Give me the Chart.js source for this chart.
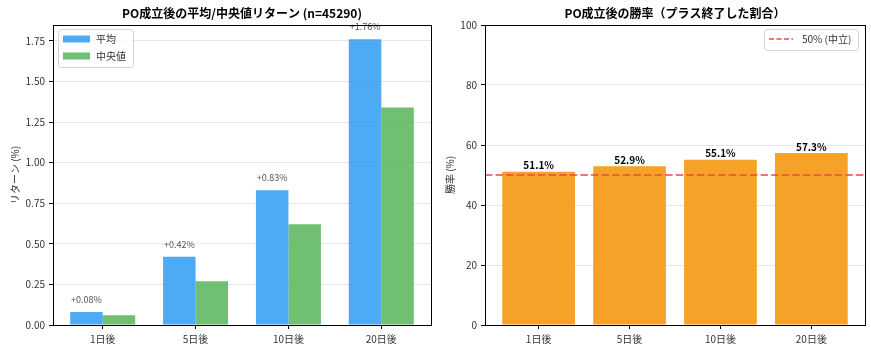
<!DOCTYPE html>
<html>
<head>
<meta charset="utf-8">
<script src="https://cdn.jsdelivr.net/npm/chart.js@4.4.0/dist/chart.umd.min.js"></script>
<style>
  body { margin: 0; background: #fff; }
  #wrap { position: relative; width: 871px; height: 352px; }
  canvas { position: absolute; top: 0; }
</style>
</head>
<body>
<div id="wrap">
  <canvas id="returns" width="435" height="352" style="left:0"></canvas>
  <canvas id="winrate" width="436" height="352" style="left:435px"></canvas>
</div>
<script>
const periods = ["1日後", "5日後", "10日後", "20日後"];
const meanReturn = [0.08, 0.42, 0.83, 1.76];
const medianReturn = [0.06, 0.27, 0.62, 1.34];
const winRate = [51.1, 52.9, 55.1, 57.3];
const neutralLine = 50;
const sampleCount = 45290;

const meanColor = "rgba(33, 150, 243, 0.8)";
const medianColor = "rgba(76, 175, 80, 0.8)";
const winColor = "#F6A229";
const lineColor = "rgba(231, 76, 60, 0.75)";
const fontFamily = '"Noto Sans CJK JP", "Noto Sans", sans-serif';

Chart.defaults.font.family = fontFamily;
Chart.defaults.font.size = 10;
Chart.defaults.color = "#333";

// bars sit on a linear x axis (index positions) so the side margins match the original
const toPoints = (values) => values.map((v, i) => ({ x: i, y: v }));

// black box round the plot area
const frame = {
  id: "frame",
  afterDraw(chart) {
    const { ctx, chartArea: a } = chart;
    ctx.save();
    ctx.strokeStyle = "#000";
    ctx.lineWidth = 1;
    ctx.strokeRect(Math.round(a.left) + 0.5, Math.round(a.top) + 0.5,
      Math.round(a.right - a.left), Math.round(a.bottom - a.top));
    ctx.restore();
  },
};

// value text above the bars of the first dataset
const barLabels = {
  id: "barLabels",
  afterDatasetsDraw(chart, args, opts) {
    const ctx = chart.ctx;
    const meta = chart.getDatasetMeta(0);
    const data = chart.data.datasets[0].data;
    ctx.save();
    ctx.font = opts.font;
    ctx.fillStyle = opts.color;
    ctx.textAlign = "center";
    ctx.textBaseline = "bottom";
    meta.data.forEach((bar, i) => {
      ctx.fillText(opts.prefix + data[i].y.toFixed(opts.decimals) + "%", bar.x, bar.y - opts.gap);
    });
    ctx.restore();
  },
};

// dashed horizontal reference line
const refLine = {
  id: "refLine",
  afterDatasetsDraw(chart, args, opts) {
    const { ctx, chartArea: a, scales } = chart;
    const y = scales.y.getPixelForValue(opts.value);
    ctx.save();
    ctx.strokeStyle = opts.color;
    ctx.lineWidth = 2;
    ctx.setLineDash([7.4, 3.2]);
    ctx.beginPath();
    ctx.moveTo(a.left, y);
    ctx.lineTo(a.right, y);
    ctx.stroke();
    ctx.restore();
  },
};

// legend inside the plot, with a light box
const boxLegend = {
  id: "boxLegend",
  afterDraw(chart, args, opts) {
    const { ctx, chartArea: a } = chart;
    ctx.save();
    ctx.font = "10px " + fontFamily;
    const textW = Math.max(...opts.items.map((it) => ctx.measureText(it.label).width));
    const w = Math.round(5 + 27 + 6 + textW + 7);
    const h = opts.items.length * 17 + 4;
    const x = Math.round(opts.align === "right" ? a.right - 7 - w : a.left + 5);
    const y = Math.round(a.top + 4);
    ctx.fillStyle = "rgba(255,255,255,0.8)";
    ctx.strokeStyle = "#d4d4d4";
    ctx.lineWidth = 1;
    ctx.beginPath();
    ctx.roundRect(x + 0.5, y + 0.5, w, h, 3);
    ctx.fill();
    ctx.stroke();
    opts.items.forEach((it, i) => {
      const cy = y + 10 + i * 17;
      if (it.dashed) {
        ctx.strokeStyle = it.color;
        ctx.lineWidth = 2;
        ctx.setLineDash([5, 2.5]);
        ctx.beginPath();
        ctx.moveTo(x + 5, cy);
        ctx.lineTo(x + 29, cy);
        ctx.stroke();
        ctx.setLineDash([]);
      } else {
        ctx.fillStyle = it.color;
        ctx.fillRect(x + 5, cy - 3.5, 27, 7);
      }
      ctx.fillStyle = "#333";
      ctx.textAlign = "left";
      ctx.textBaseline = "middle";
      ctx.fillText(it.label, x + 38, cy);
    });
    ctx.restore();
  },
};

const titleOpts = (text) => ({
  display: true,
  text: text,
  fullSize: false,
  color: "#000",
  font: { size: 12, weight: "bold", lineHeight: 1.25 },
  padding: { top: 6, bottom: 4 },
});

const xScale = (min, max) => ({
  type: "linear",
  min: min,
  max: max,
  offset: false,
  grid: { offset: false, drawOnChartArea: false, drawTicks: true, tickLength: 4, tickColor: "#000" },
  border: { color: "#000" },
  ticks: {
    stepSize: 1,
    includeBounds: false,
    padding: 4,
    callback: (v) => periods[v],
  },
  // keep only the ticks that sit on a period
  afterBuildTicks: (s) => { s.ticks = s.ticks.filter((t) => Number.isInteger(t.value) && t.value >= 0 && t.value < periods.length); },
  afterFit: (s) => { s.height = 27; },
});

new Chart(document.getElementById("returns"), {
  type: "bar",
  data: {
    datasets: [
      { label: "平均", data: toPoints(meanReturn), backgroundColor: meanColor },
      { label: "中央値", data: toPoints(medianReturn), backgroundColor: medianColor },
    ],
  },
  options: {
    responsive: false,
    animation: false,
    categoryPercentage: 0.7,
    barPercentage: 1.0,
    layout: { padding: { left: 0, right: 4, top: 0, bottom: 0 } },
    scales: {
      x: xScale(-0.535, 3.535),
      y: {
        min: 0,
        max: 1.848,
        grid: { color: "#e6e6e6", tickColor: "#000", tickLength: 4 },
        border: { color: "#000" },
        ticks: { stepSize: 0.25, includeBounds: false, padding: 4, callback: (v) => v.toFixed(2) },
        title: { display: true, text: "リターン (%)", padding: { top: 9 } },
        afterFit: (s) => { s.width = 53; },
      },
    },
    plugins: {
      legend: { display: false },
      tooltip: { enabled: false },
      title: titleOpts("PO成立後の平均/中央値リターン (n=" + sampleCount + ")"),
      barLabels: { font: "9px " + fontFamily, color: "#555", prefix: "+", decimals: 2, gap: 8 },
      boxLegend: {
        align: "left",
        items: [
          { label: "平均", color: meanColor },
          { label: "中央値", color: medianColor },
        ],
      },
    },
  },
  plugins: [barLabels, frame, boxLegend],
});

new Chart(document.getElementById("winrate"), {
  type: "bar",
  data: {
    datasets: [
      { label: "勝率", data: toPoints(winRate), backgroundColor: winColor },
    ],
  },
  options: {
    responsive: false,
    animation: false,
    categoryPercentage: 1.0,
    barPercentage: 0.8,
    layout: { padding: { left: 0, right: 6, top: 0, bottom: 0 } },
    scales: {
      x: xScale(-0.59, 3.59),
      y: {
        min: 0,
        max: 100,
        grid: { color: "#e6e6e6", tickColor: "#000", tickLength: 4 },
        border: { color: "#000" },
        ticks: { stepSize: 20, padding: 4 },
        title: { display: true, text: "勝率 (%)", padding: { top: 9 } },
        afterFit: (s) => { s.width = 50; },
      },
    },
    plugins: {
      legend: { display: false },
      tooltip: { enabled: false },
      title: titleOpts("PO成立後の勝率（プラス終了した割合）"),
      refLine: { value: neutralLine, color: lineColor },
      barLabels: { font: "bold 10px " + fontFamily, color: "#000", prefix: "", decimals: 1, gap: 1 },
      boxLegend: {
        align: "right",
        items: [{ label: neutralLine + "% (中立)", color: lineColor, dashed: true }],
      },
    },
  },
  plugins: [refLine, barLabels, frame, boxLegend],
});
</script>
</body>
</html>
